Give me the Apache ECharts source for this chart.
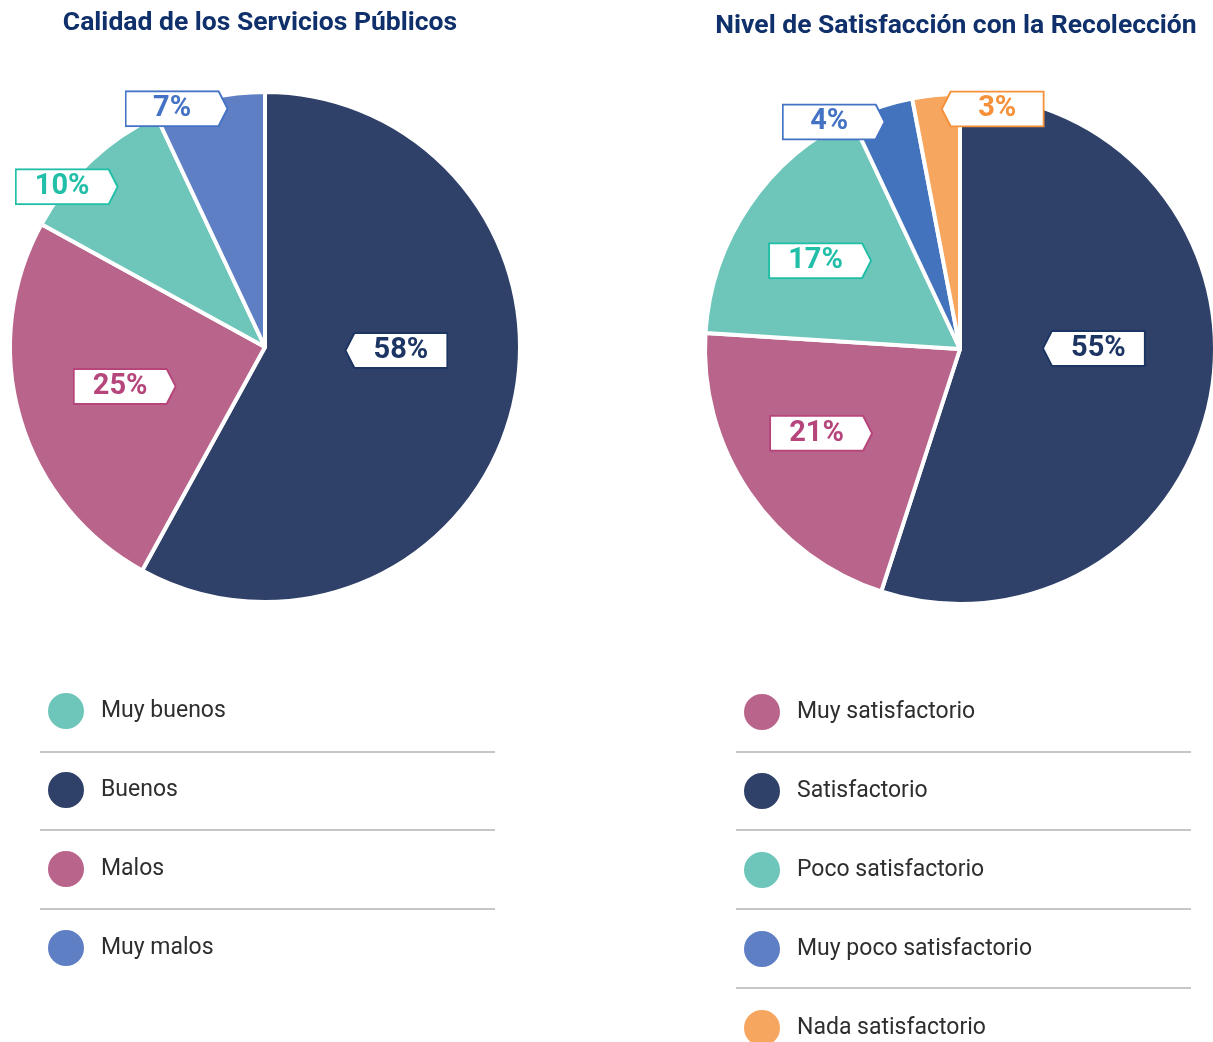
<!DOCTYPE html>
<html>
<head>
<meta charset="utf-8">
<title>Calidad de los Servicios Públicos</title>
<script src="https://cdn.jsdelivr.net/npm/echarts@6/dist/echarts.min.js"></script>
<style>
  html, body { margin: 0; padding: 0; background: #fff; }
  #chart { width: 1213px; height: 1042px; }
</style>
</head>
<body>
<div id="chart"></div>
<script>
// datos
const leftNames = ['Buenos', 'Malos', 'Muy buenos', 'Muy malos']
const leftValues = [58, 25, 10, 7]
const leftLegend = ['Muy buenos', 'Buenos', 'Malos', 'Muy malos']

const rightNames = ['Satisfactorio', 'Muy satisfactorio', 'Poco satisfactorio', 'Muy poco satisfactorio', 'Nada satisfactorio']
const rightValues = [55, 21, 17, 4, 3]
const rightLegend = ['Muy satisfactorio', 'Satisfactorio', 'Poco satisfactorio', 'Muy poco satisfactorio', 'Nada satisfactorio']

// colores
const sliceColor = {
  'Buenos': '#2f4169', 'Malos': '#b9648a', 'Muy buenos': '#6dc6b9', 'Muy malos': '#5f7fc4',
  'Satisfactorio': '#2f4169', 'Muy satisfactorio': '#b9648a', 'Poco satisfactorio': '#6dc6b9',
  'Muy poco satisfactorio': '#4373bd', 'Nada satisfactorio': '#f7a660'
}
const legendColor = { 'Muy poco satisfactorio': '#5f7fc4' }
const tagColor = {
  'Buenos': '#1c3563', 'Malos': '#b5457b', 'Muy buenos': '#22bfa8', 'Muy malos': '#4472c4',
  'Satisfactorio': '#1c3563', 'Muy satisfactorio': '#b5457b', 'Poco satisfactorio': '#22bfa8',
  'Muy poco satisfactorio': '#4472c4', 'Nada satisfactorio': '#f5913a'
}
// lado de la flecha de cada etiqueta
const leftTagSide = ['left', 'right', 'right', 'right']
const rightTagSide = ['left', 'right', 'right', 'right', 'left']
// desplazamiento de etiquetas respecto a la posición "inside"
const leftShift = [[5, -29], [-15, 3], [-109, -65], [-60, -111]]
const rightShift = [[5, -21], [-31, 11], [-32, -15], [-86, -103], [45, -110]]

const TAG_W = 104
const TAG_H = 37
const TIP = 9

function tagImage (color, side) {
  let pts
  if (side === 'left') {
    pts = `1,${TAG_H / 2} ${TIP + 1},1 ${TAG_W - 1},1 ${TAG_W - 1},${TAG_H - 1} ${TIP + 1},${TAG_H - 1}`
  } else {
    pts = `1,1 ${TAG_W - TIP - 1},1 ${TAG_W - 1},${TAG_H / 2} ${TAG_W - TIP - 1},${TAG_H - 1} 1,${TAG_H - 1}`
  }
  let svg = `<svg xmlns="http://www.w3.org/2000/svg" width="${TAG_W}" height="${TAG_H}" viewBox="0 0 ${TAG_W} ${TAG_H}">` +
    `<polygon points="${pts}" fill="#ffffff" stroke="${color}" stroke-width="2"/></svg>`
  return 'data:image/svg+xml;charset=utf-8,' + encodeURIComponent(svg)
}

function buildData (names, values, sides) {
  return names.map((name, i) => ({
    name: name,
    value: values[i],
    itemStyle: { color: sliceColor[name] },
    label: {
      color: tagColor[name],
      padding: sides[i] === 'left' ? [0, 0, 0, TIP] : [0, TIP, 0, 0],
      backgroundColor: { image: tagImage(tagColor[name], sides[i]) }
    }
  }))
}

function buildLegend (names) {
  return names.map(name => ({
    name: name,
    itemStyle: { color: legendColor[name] || sliceColor[name] }
  }))
}

const pieLabel = {
  show: true,
  position: 'inside',
  formatter: '{c}%',
  fontFamily: 'Roboto',
  fontWeight: 'bold',
  fontSize: 29,
  width: TAG_W - TIP,
  height: TAG_H,
  lineHeight: TAG_H,
  align: 'center',
  verticalAlign: 'middle'
}

const legendBase = {
  orient: 'vertical',
  icon: 'circle',
  itemWidth: 38,
  itemHeight: 38,
  itemGap: 39,
  height: 420,
  padding: 0,
  selectedMode: false,
  textStyle: {
    fontFamily: 'Roboto',
    fontSize: 23,
    color: '#2e2e2e',
    padding: [0, 0, 0, 11]
  }
}

function sepLine (x1, x2, y) {
  return {
    type: 'line',
    silent: true,
    shape: { x1: x1, y1: y, x2: x2, y2: y },
    style: { stroke: '#c6c6c8', lineWidth: 2 }
  }
}

let myChart = echarts.init(document.getElementById('chart'))
let option = {
  animation: false,
  title: [
    {
      text: 'Calidad de los Servicios Públicos',
      left: 255,
      top: 5,
      textAlign: 'center',
      textStyle: { fontFamily: 'Roboto', fontWeight: 'bold', fontSize: 26.5, color: '#0f306a' }
    },
    {
      text: 'Nivel de Satisfacción con la Recolección',
      left: 951,
      top: 8,
      textAlign: 'center',
      textStyle: { fontFamily: 'Roboto', fontWeight: 'bold', fontSize: 26.5, color: '#0f306a' }
    }
  ],
  legend: [
    Object.assign({}, legendBase, { left: 46, top: 691, data: buildLegend(leftLegend) }),
    Object.assign({}, legendBase, { left: 742, top: 692, data: buildLegend(rightLegend) })
  ],
  graphic: [
    sepLine(40, 495, 752), sepLine(40, 495, 830), sepLine(40, 495, 909),
    sepLine(736, 1191, 752), sepLine(736, 1191, 830), sepLine(736, 1191, 909), sepLine(736, 1191, 988)
  ],
  series: [
    {
      type: 'pie',
      center: [265, 347],
      radius: 255,
      startAngle: 90,
      clockwise: true,
      silent: true,
      itemStyle: { borderColor: '#ffffff', borderWidth: 4 },
      label: pieLabel,
      labelLine: { show: false },
      labelLayout: (p) => ({ dx: leftShift[p.dataIndex][0], dy: leftShift[p.dataIndex][1] }),
      data: buildData(leftNames, leftValues, leftTagSide)
    },
    {
      type: 'pie',
      center: [960, 349],
      radius: 255,
      startAngle: 90,
      clockwise: true,
      silent: true,
      itemStyle: { borderColor: '#ffffff', borderWidth: 4 },
      label: pieLabel,
      labelLine: { show: false },
      labelLayout: (p) => ({ dx: rightShift[p.dataIndex][0], dy: rightShift[p.dataIndex][1] }),
      data: buildData(rightNames, rightValues, rightTagSide)
    }
  ]
}
myChart.setOption(option)
</script>
</body>
</html>
